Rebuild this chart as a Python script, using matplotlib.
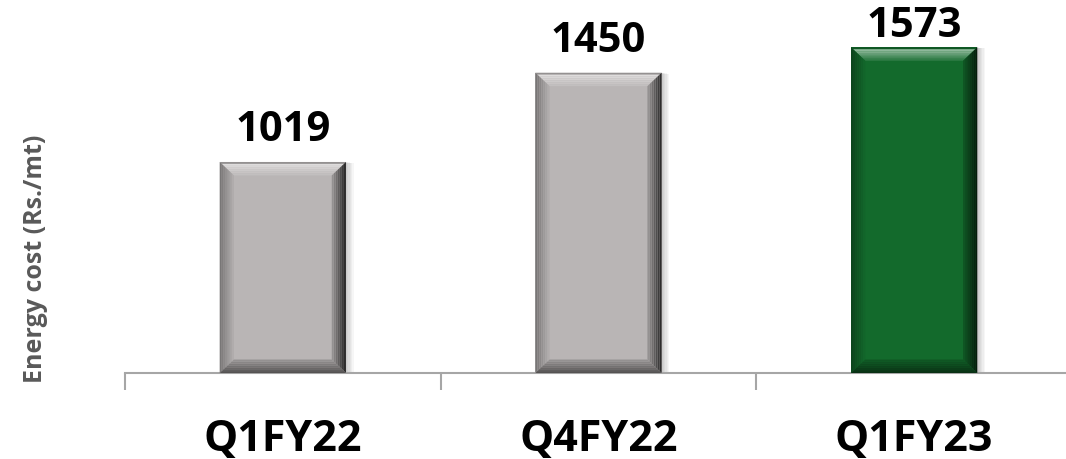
import matplotlib
matplotlib.use("Agg")
import matplotlib.pyplot as plt
import numpy as np
from matplotlib.colors import to_rgb

quarters = ["Q1FY22", "Q4FY22", "Q1FY23"]
energy_cost = [1019, 1450, 1573]
bar_colors = ["#b9b5b5", "#b9b5b5", "#136a2c"]


def shade(color, f):
    # f < 0 darkens toward black, f > 0 lightens toward white
    c = np.array(to_rgb(color))
    if f < 0:
        return tuple(c * (1 + f))
    return tuple(c + (1 - c) * f)


def bevel_bar(ax, x, width, height, color, bx, by):
    x0, x1 = x - width / 2, x + width / 2
    y0, y1 = 0, height
    # soft shadow behind the bar
    for i in range(6):
        d = (i + 1) * 0.004
        ax.fill([x0 + d, x1 + d, x1 + d, x0 + d], [y0 - d * 300, y0 - d * 300, y1 - d * 200, y1 - d * 200],
                color="black", alpha=0.035, lw=0, zorder=2)
    ax.fill([x0, x1, x1, x0], [y0, y0, y1, y1], color=color, lw=0, zorder=3)
    # bevel edges drawn in bands to fake the gradient
    n = 7
    for k in range(n):
        t0, t1 = k / n, (k + 1) / n
        # top edge: bright highlight fading into the face
        ax.fill([x0 + bx * t0, x1 - bx * t0, x1 - bx * t1, x0 + bx * t1],
                [y1 - by * t0, y1 - by * t0, y1 - by * t1, y1 - by * t1],
                color=shade(color, -0.2 if k == 0 else 0.6 - 0.55 * t0), lw=0, zorder=4)
        # left edge
        ax.fill([x0 + bx * t0, x0 + bx * t1, x0 + bx * t1, x0 + bx * t0],
                [y0 + by * t0, y0 + by * t1, y1 - by * t1, y1 - by * t0],
                color=shade(color, -0.4 + 0.35 * t1), lw=0, zorder=4)
        # right edge
        ax.fill([x1 - bx * t0, x1 - bx * t1, x1 - bx * t1, x1 - bx * t0],
                [y0 + by * t0, y0 + by * t1, y1 - by * t1, y1 - by * t0],
                color=shade(color, -0.85 + 0.65 * t1), lw=0, zorder=4)
        # bottom edge
        ax.fill([x0 + bx * t0, x1 - bx * t0, x1 - bx * t1, x0 + bx * t1],
                [y0 + by * t0, y0 + by * t0, y0 + by * t1, y0 + by * t1],
                color=shade(color, -0.6 + 0.4 * t1), lw=0, zorder=4)


fig = plt.figure(figsize=(10.66, 4.6), dpi=100)
ax = fig.add_axes([125 / 1066, 86 / 460, 947 / 1066, 374 / 460])
ax.set_xlim(0, 3)
ax.set_ylim(0, 1806)

bar_w = 0.4
bx, by = 0.045, 65
label_gap, label_cap = 106, 1627  # keep the tallest label inside the figure
for i, (val, col) in enumerate(zip(energy_cost, bar_colors)):
    bevel_bar(ax, i + 0.5, bar_w, val, col, bx, by)
    ax.text(i + 0.5, min(val + label_gap, label_cap), str(val), ha="center", va="baseline",
            fontsize=30, fontweight="bold", family="Open Sans", color="black")

for side in ["top", "right", "left"]:
    ax.spines[side].set_visible(False)
ax.spines["bottom"].set_color("#a6a6a6")
ax.spines["bottom"].set_linewidth(1.5)
ax.set_yticks([])
ax.set_xticks([0, 1, 2, 3])
ax.set_xticklabels([])
ax.set_xticks([0.5, 1.5, 2.5], minor=True)
ax.set_xticklabels(quarters, minor=True, fontsize=31, fontweight="bold", family="Open Sans")
ax.tick_params(axis="x", which="major", length=12, width=1.5, color="#a6a6a6")
ax.tick_params(axis="x", which="minor", length=0, pad=32)

fig.text(36 / 1066, 1 - 259 / 460, "Energy cost (Rs./mt)", rotation=90, ha="center", va="center",
         fontsize=18, fontweight="bold", family="Open Sans", color="#595959")

fig.savefig("out.png", dpi=100)
